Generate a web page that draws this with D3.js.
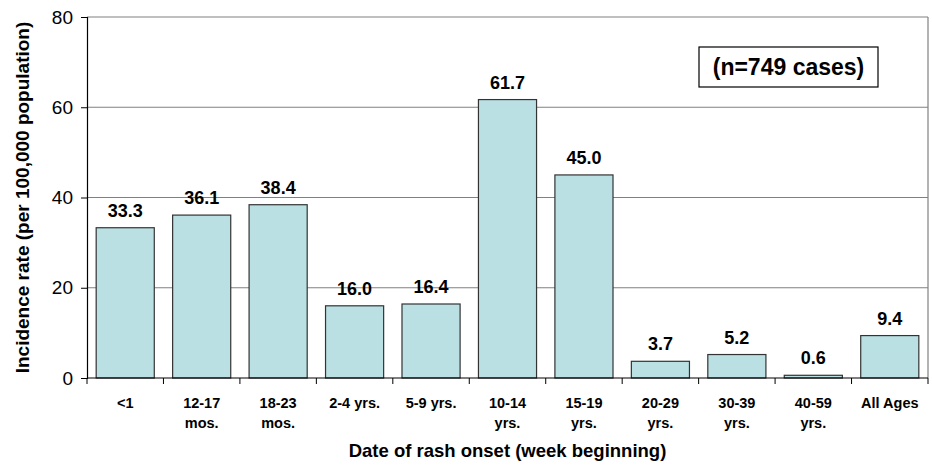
<!DOCTYPE html>
<html>
<head>
<meta charset="utf-8">
<script src="https://cdn.jsdelivr.net/npm/d3@7"></script>
<style>
  body { margin: 0; background: #fff; }
  text { font-family: "Liberation Sans", Arial, sans-serif; }
</style>
</head>
<body>
<script>
// Age groups (two-line labels) and incidence rates
const categories = ["<1", "12-17|mos.", "18-23|mos.", "2-4 yrs.", "5-9 yrs.", "10-14|yrs.",
    "15-19|yrs.", "20-29|yrs.", "30-39|yrs.", "40-59|yrs.", "All Ages"];
const rates = [33.3, 36.1, 38.4, 16.0, 16.4, 61.7, 45.0, 3.7, 5.2, 0.6, 9.4];
const yTicks = [0, 20, 40, 60, 80];

const width = 932, height = 466;
const margin = { top: 17, right: 4, bottom: 88, left: 87 };
const iw = width - margin.left - margin.right;
const ih = height - margin.top - margin.bottom;

const svg = d3.select("body")
    .append("svg")
    .attr("width", width)
    .attr("height", height);

const g = svg.append("g")
    .attr("transform", `translate(${margin.left},${margin.top})`);

const x = d3.scaleBand()
    .domain(categories)
    .range([0, iw])
    .paddingInner(0.24)
    .paddingOuter(0.12);

const y = d3.scaleLinear()
    .domain([0, 80])
    .range([ih, 0]);

// gridlines
g.selectAll(".grid")
    .data(yTicks.slice(1))
    .enter().append("line")
    .attr("x1", 0).attr("x2", iw)
    .attr("y1", d => y(d)).attr("y2", d => y(d))
    .attr("stroke", "#808080")
    .attr("stroke-width", 1.2);

// right border
g.append("line")
    .attr("x1", iw).attr("x2", iw)
    .attr("y1", 0).attr("y2", ih)
    .attr("stroke", "#808080")
    .attr("stroke-width", 1.2);

// bars
g.selectAll(".bar")
    .data(rates)
    .enter().append("rect")
    .attr("x", (d, i) => x(categories[i]))
    .attr("y", d => y(d))
    .attr("width", x.bandwidth())
    .attr("height", d => ih - y(d))
    .attr("fill", "#bae0e3")
    .attr("stroke", "#333")
    .attr("stroke-width", 1.2);

// value labels
g.selectAll(".val")
    .data(rates)
    .enter().append("text")
    .attr("x", (d, i) => x(categories[i]) + x.bandwidth() / 2)
    .attr("y", d => y(d) - 11)
    .attr("text-anchor", "middle")
    .attr("font-size", 18)
    .attr("font-weight", "bold")
    .text(d => d.toFixed(1));

// y axis
const yAxis = g.append("g")
    .call(d3.axisLeft(y).tickValues(yTicks).tickSize(6).tickPadding(8));
yAxis.select(".domain").attr("stroke", "#000").attr("stroke-width", 1.2);
yAxis.selectAll(".tick line").attr("stroke", "#000");
yAxis.selectAll(".tick text")
    .attr("font-size", 19)
    .attr("fill", "#000")
    .attr("font-family", "Liberation Sans, Arial, sans-serif");

// x axis: ticks at band boundaries
const xAxisG = g.append("g").attr("transform", `translate(0,${ih})`);
xAxisG.append("line")
    .attr("x1", 0).attr("x2", iw)
    .attr("stroke", "#000").attr("stroke-width", 1.2);
const step = x.step();
const bounds = d3.range(categories.length + 1).map(i => i * step);
xAxisG.selectAll(".xt")
    .data(bounds)
    .enter().append("line")
    .attr("x1", d => d).attr("x2", d => d)
    .attr("y1", 0).attr("y2", 6)
    .attr("stroke", "#000");

const labels = xAxisG.selectAll(".xl")
    .data(categories)
    .enter().append("text")
    .attr("text-anchor", "middle")
    .attr("font-size", 14.5)
    .attr("font-weight", "bold")
    .attr("transform", d => `translate(${x(d) + x.bandwidth() / 2},0)`);
labels.each(function (d) {
    const lines = d.split("|");
    d3.select(this).selectAll("tspan")
        .data(lines)
        .enter().append("tspan")
        .attr("x", 0)
        .attr("y", (l, i) => 30 + i * 20)
        .text(l => l);
});

// axis titles
svg.append("text")
    .attr("x", margin.left + iw / 2)
    .attr("y", 457)
    .attr("text-anchor", "middle")
    .attr("font-size", 18.5)
    .attr("font-weight", "bold")
    .text("Date of rash onset (week beginning)");

svg.append("text")
    .attr("transform", `translate(29,${margin.top + ih / 2}) rotate(-90)`)
    .attr("text-anchor", "middle")
    .attr("font-size", 19)
    .attr("font-weight", "bold")
    .text("Incidence rate (per 100,000 population)");

// annotation box
svg.append("rect")
    .attr("x", 699).attr("y", 47)
    .attr("width", 179).attr("height", 40)
    .attr("fill", "#fff")
    .attr("stroke", "#000")
    .attr("stroke-width", 1.2);
svg.append("text")
    .attr("x", 788.5).attr("y", 75)
    .attr("text-anchor", "middle")
    .attr("font-size", 23)
    .attr("font-weight", "bold")
    .text("(n=749 cases)");
</script>
</body>
</html>
